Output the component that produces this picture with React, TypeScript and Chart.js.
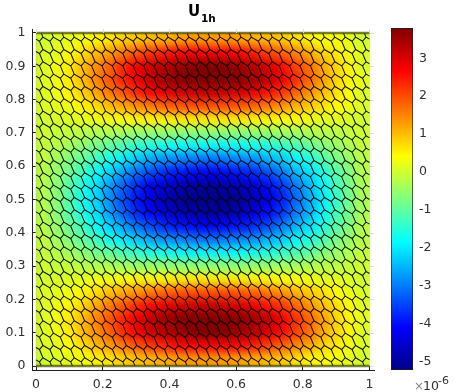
import React, { useEffect, useRef } from "react";
import { Chart, registerables } from "chart.js";

Chart.register(...registerables);

const FONT = "'DejaVu Sans'";
const TEXT = "#303030";
const LINE = "#202020";

const xTickValues = [0, 0.2, 0.4, 0.6, 0.8, 1];
const yTickValues = [0, 0.1, 0.2, 0.3, 0.4, 0.5, 0.6, 0.7, 0.8, 0.9, 1];
const barTickValues = [-5, -4, -3, -2, -1, 0, 1, 2, 3];
const valueMin = -5.22;
const valueMax = 3.8;

const jetStops = [0, 0.125, 0.375, 0.625, 0.875, 1];
const jetColours = [
  [0, 0, 135],
  [0, 0, 255],
  [0, 255, 255],
  [255, 255, 0],
  [255, 0, 0],
  [128, 0, 0],
];

// Field, in units of 1e-6: first row is the top of the plot.
const fieldRows = [
  [0.0,0.1,0.2,0.3,0.5,0.6,0.8,0.9,1.0,1.1,1.2,1.3,1.3,1.3,1.3,1.2,1.1,1.0,0.9,0.7,0.5,0.4,0.3,0.2,0.0],
  [0.1,0.2,0.4,0.7,1.0,1.3,1.6,1.9,2.2,2.4,2.6,2.7,2.7,2.7,2.7,2.6,2.4,2.1,1.8,1.5,1.2,0.8,0.6,0.3,0.1],
  [0.1,0.3,0.6,1.0,1.4,1.8,2.3,2.7,3.1,3.3,3.5,3.7,3.8,3.8,3.7,3.5,3.3,3.0,2.6,2.1,1.7,1.2,0.8,0.5,0.1],
  [0.1,0.3,0.6,1.0,1.5,1.9,2.4,2.8,3.2,3.5,3.7,3.8,3.8,3.8,3.8,3.7,3.5,3.2,2.8,2.3,1.8,1.3,0.8,0.5,0.2],
  [0.1,0.3,0.5,0.8,1.2,1.6,1.9,2.3,2.6,2.8,3.0,3.1,3.2,3.2,3.1,3.0,2.8,2.5,2.2,1.8,1.4,1.0,0.7,0.4,0.1],
  [0.1,0.2,0.3,0.5,0.7,1.0,1.2,1.4,1.6,1.8,1.9,2.0,2.0,2.0,2.0,1.9,1.8,1.6,1.4,1.1,0.9,0.7,0.4,0.3,0.1],
  [0.0,0.1,0.1,0.2,0.3,0.3,0.4,0.5,0.5,0.5,0.6,0.6,0.6,0.6,0.6,0.6,0.5,0.5,0.4,0.4,0.3,0.2,0.2,0.1,0.0],
  [0.0,-0.1,-0.1,-0.2,-0.3,-0.3,-0.4,-0.5,-0.5,-0.5,-0.6,-0.6,-0.6,-0.6,-0.6,-0.6,-0.5,-0.5,-0.4,-0.4,-0.3,-0.2,-0.2,-0.1,0.0],
  [-0.1,-0.2,-0.4,-0.6,-0.8,-1.0,-1.2,-1.4,-1.6,-1.7,-1.8,-1.9,-1.9,-1.9,-1.9,-1.8,-1.7,-1.6,-1.4,-1.2,-1.0,-0.7,-0.5,-0.3,-0.1],
  [-0.1,-0.4,-0.7,-1.0,-1.3,-1.7,-2.0,-2.3,-2.6,-2.8,-2.9,-3.0,-3.1,-3.1,-3.0,-2.9,-2.8,-2.5,-2.3,-1.9,-1.6,-1.2,-0.8,-0.5,-0.2],
  [-0.2,-0.5,-0.9,-1.3,-1.8,-2.2,-2.7,-3.1,-3.4,-3.7,-3.9,-4.0,-4.1,-4.1,-4.0,-3.9,-3.7,-3.4,-3.0,-2.5,-2.1,-1.6,-1.1,-0.7,-0.2],
  [-0.2,-0.6,-1.1,-1.6,-2.1,-2.7,-3.2,-3.7,-4.1,-4.4,-4.7,-4.9,-5.0,-5.0,-4.9,-4.7,-4.4,-4.0,-3.6,-3.0,-2.5,-1.9,-1.3,-0.8,-0.3],
  [-0.2,-0.6,-1.1,-1.7,-2.2,-2.8,-3.4,-3.9,-4.3,-4.7,-5.0,-5.2,-5.2,-5.2,-5.2,-5.0,-4.7,-4.3,-3.8,-3.2,-2.6,-2.0,-1.4,-0.8,-0.3],
  [-0.2,-0.6,-1.1,-1.6,-2.1,-2.7,-3.2,-3.7,-4.1,-4.4,-4.7,-4.9,-5.0,-5.0,-4.9,-4.7,-4.4,-4.0,-3.6,-3.0,-2.5,-1.9,-1.3,-0.8,-0.3],
  [-0.2,-0.5,-0.9,-1.3,-1.8,-2.2,-2.7,-3.1,-3.4,-3.7,-3.9,-4.0,-4.1,-4.1,-4.0,-3.9,-3.7,-3.4,-3.0,-2.5,-2.1,-1.6,-1.1,-0.7,-0.2],
  [-0.1,-0.4,-0.7,-1.0,-1.3,-1.7,-2.0,-2.3,-2.6,-2.8,-2.9,-3.0,-3.1,-3.1,-3.0,-2.9,-2.8,-2.5,-2.3,-1.9,-1.6,-1.2,-0.8,-0.5,-0.2],
  [-0.1,-0.2,-0.4,-0.6,-0.8,-1.0,-1.2,-1.4,-1.6,-1.7,-1.8,-1.9,-1.9,-1.9,-1.9,-1.8,-1.7,-1.6,-1.4,-1.2,-1.0,-0.7,-0.5,-0.3,-0.1],
  [0.0,-0.1,-0.1,-0.2,-0.3,-0.3,-0.4,-0.5,-0.5,-0.5,-0.6,-0.6,-0.6,-0.6,-0.6,-0.6,-0.5,-0.5,-0.4,-0.4,-0.3,-0.2,-0.2,-0.1,0.0],
  [0.0,0.1,0.1,0.2,0.3,0.3,0.4,0.5,0.5,0.5,0.6,0.6,0.6,0.6,0.6,0.6,0.5,0.5,0.4,0.4,0.3,0.2,0.2,0.1,0.0],
  [0.1,0.2,0.3,0.5,0.7,1.0,1.2,1.4,1.6,1.8,1.9,2.0,2.0,2.0,2.0,1.9,1.8,1.6,1.4,1.1,0.9,0.7,0.4,0.3,0.1],
  [0.1,0.3,0.5,0.8,1.2,1.6,1.9,2.3,2.6,2.8,3.0,3.1,3.2,3.2,3.1,3.0,2.8,2.5,2.2,1.8,1.4,1.0,0.7,0.4,0.1],
  [0.1,0.3,0.6,1.0,1.5,1.9,2.4,2.8,3.2,3.5,3.7,3.8,3.8,3.8,3.8,3.7,3.5,3.2,2.8,2.3,1.8,1.3,0.8,0.5,0.2],
  [0.1,0.3,0.6,1.0,1.4,1.8,2.3,2.7,3.1,3.3,3.5,3.7,3.8,3.8,3.7,3.5,3.3,3.0,2.6,2.1,1.7,1.2,0.8,0.5,0.1],
  [0.1,0.2,0.4,0.7,1.0,1.3,1.6,1.9,2.2,2.4,2.6,2.7,2.7,2.7,2.7,2.6,2.4,2.1,1.8,1.5,1.2,0.8,0.6,0.3,0.1],
  [0.0,0.1,0.2,0.3,0.5,0.6,0.8,0.9,1.0,1.1,1.2,1.3,1.3,1.3,1.3,1.2,1.1,1.0,0.9,0.7,0.5,0.4,0.3,0.2,0.0],
];

// Structured triangulation whose dual cells make up the mesh.
const meshCols = 32;
const meshRows = 27;

const jet = (v: number) => {
  const t = Math.min(1, Math.max(0, (v - valueMin) / (valueMax - valueMin)));
  let i = 0;
  while (i < jetStops.length - 2 && t > jetStops[i + 1]) i++;
  const f = (t - jetStops[i]) / (jetStops[i + 1] - jetStops[i]);
  const c = jetColours[i].map((a, k) => Math.round(a + (jetColours[i + 1][k] - a) * f));
  return `rgb(${c[0]},${c[1]},${c[2]})`;
};

const clipSegment = (a: number[], b: number[]) => {
  let t0 = 0;
  let t1 = 1;
  const d = [b[0] - a[0], b[1] - a[1]];
  for (let k = 0; k < 2; k++) {
    for (const [p, q] of [[-d[k], a[k]], [d[k], 1 - a[k]]]) {
      if (p === 0) {
        if (q < 0) return null;
      } else {
        const r = q / p;
        if (p < 0) t0 = Math.max(t0, r);
        else t1 = Math.min(t1, r);
      }
    }
  }
  if (t0 >= t1) return null;
  return [
    [a[0] + d[0] * t0, a[1] + d[1] * t0],
    [a[0] + d[0] * t1, a[1] + d[1] * t1],
  ];
};

const buildMesh = () => {
  const pts: { x: number; y: number }[] = [];
  const hx = 1 / meshCols;
  const hy = 1 / meshRows;
  const edgeA = [(2 * hx) / 3, hy / 3];
  const edgeB = [hx / 3, (2 * hy) / 3];
  const edgeC = [-hx / 3, hy / 3];
  for (let j = -1; j <= meshRows + 1; j++) {
    for (let i = -1; i <= meshCols + 1; i++) {
      const tx = i * hx - hx / 3;
      const ty = j * hy - (2 * hy) / 3;
      const ends = [
        [tx + edgeA[0], ty + edgeA[1]],
        [tx + edgeC[0], ty + edgeC[1]],
        [tx - edgeB[0], ty - edgeB[1]],
      ];
      for (const e of ends) {
        const s = clipSegment([tx, ty], e);
        if (s) {
          pts.push({ x: s[0][0], y: 1 - s[0][1] });
          pts.push({ x: s[1][0], y: 1 - s[1][1] });
          pts.push({ x: NaN, y: NaN });
        }
      }
    }
  }
  return pts;
};

const heatPlugin = {
  id: "heatSmooth",
  afterDatasetDraw(chart: any, args: any) {
    if (args.index !== 0) return;
    const { ctx, scales } = chart;
    const l = scales.x.getPixelForValue(0);
    const r = scales.x.getPixelForValue(1);
    const t = scales.y.getPixelForValue(1);
    const b = scales.y.getPixelForValue(0);
    ctx.save();
    ctx.beginPath();
    ctx.rect(l, t, r - l, b - t);
    ctx.clip();
    ctx.filter = "blur(4px)";
    ctx.drawImage(chart.canvas, 0, 0);
    ctx.restore();
  },
  afterDraw(chart: any) {
    const { ctx, scales, chartArea: a } = chart;
    ctx.save();
    ctx.strokeStyle = "#dcdcdc";
    ctx.lineWidth = 1;
    ctx.beginPath();
    for (const v of yTickValues) {
      const y = Math.round(scales.y.getPixelForValue(v)) + 0.5;
      ctx.moveTo(a.right - 4, y);
      ctx.lineTo(a.right, y);
    }
    for (const v of xTickValues) {
      const x = Math.round(scales.x.getPixelForValue(v)) + 0.5;
      ctx.moveTo(x, a.top);
      ctx.lineTo(x, a.top + 4);
    }
    ctx.stroke();
    ctx.fillStyle = "#000";
    ctx.textBaseline = "alphabetic";
    ctx.textAlign = "left";
    ctx.font = `bold 15px ${FONT}`;
    ctx.fillText("U", 188, 15.5);
    ctx.font = `bold 10.5px ${FONT}`;
    ctx.fillText("1h", 201, 22);
    ctx.restore();
  },
};

const multiplierPlugin = {
  id: "multiplier",
  afterDraw(chart: any) {
    const { ctx } = chart;
    ctx.save();
    ctx.textBaseline = "alphabetic";
    ctx.textAlign = "left";
    ctx.fillStyle = "#888";
    ctx.font = `12px ${FONT}`;
    ctx.fillText("×", 414 - 380, 390);
    ctx.fillStyle = TEXT;
    ctx.font = `12.5px ${FONT}`;
    ctx.fillText("10", 423 - 380, 389.5);
    ctx.font = `11px ${FONT}`;
    ctx.fillText("-6", 438 - 380, 384);
    ctx.restore();
  },
};

const tickLabel = (v: any) => String(+Number(v).toFixed(1));

export default function App() {
  const plotRef = useRef<HTMLCanvasElement>(null);
  const barRef = useRef<HTMLCanvasElement>(null);

  useEffect(() => {
    const n = fieldRows.length;
    const cells: any[] = [];
    const colours: string[] = [];
    fieldRows.forEach((row, r) =>
      row.forEach((v, c) => {
        cells.push({ x: (c + 0.5) / row.length, y: 1 - (r + 0.5) / n });
        colours.push(jet(v));
      })
    );
    const plot = new Chart(plotRef.current!, {
      type: "scatter",
      plugins: [heatPlugin],
      data: {
        datasets: [
          {
            data: cells,
            order: 3,
            pointStyle: "rect",
            backgroundColor: colours,
            borderWidth: 0,
            pointRadius: (c: any) => {
              const s = c.chart.scales.x;
              const side = (s.getPixelForValue(1) - s.getPixelForValue(0)) / n + 0.6;
              return side / Math.SQRT2;
            },
            showLine: false,
          },
          {
            data: buildMesh(),
            order: 2,
            showLine: true,
            spanGaps: false,
            pointRadius: 0,
            borderColor: "rgba(5,5,0,0.95)",
            borderWidth: 1.05,
          },
          {
            data: [{ x: 0, y: 1 }, { x: 1, y: 1 }, { x: NaN, y: NaN }, { x: 0, y: 0 }, { x: 1, y: 0 }],
            order: 1,
            showLine: true,
            spanGaps: false,
            pointRadius: 0,
            borderColor: "rgba(70,75,10,0.72)",
            borderWidth: 2.5,
          },
        ],
      } as any,
      options: {
        responsive: false,
        animation: false,
        events: [],
        layout: { padding: { top: 29, right: 80, left: 0, bottom: 0 } },
        plugins: { legend: { display: false }, tooltip: { enabled: false } },
        scales: {
          x: {
            type: "linear",
            min: -0.012,
            max: 1.0135,
            afterFit: (s: any) => { s.height = 22; },
            afterBuildTicks: (s: any) => { s.ticks = xTickValues.map((value) => ({ value })); },
            grid: { drawOnChartArea: false, tickLength: -4, color: LINE, tickColor: LINE },
            border: { color: LINE, width: 1 },
            ticks: {
              autoSkip: false, maxRotation: 0, padding: 11, color: TEXT,
              font: { family: FONT, size: 12.5 }, callback: tickLabel,
            },
          },
          y: {
            type: "linear",
            min: -0.012,
            max: 1.012,
            afterFit: (s: any) => { s.width = 32; },
            afterBuildTicks: (s: any) => { s.ticks = yTickValues.map((value) => ({ value })); },
            grid: { drawOnChartArea: false, tickLength: -4, color: LINE, tickColor: LINE },
            border: { color: LINE, width: 1 },
            ticks: {
              autoSkip: false, padding: 10.5, color: TEXT,
              font: { family: FONT, size: 12.5 }, callback: tickLabel,
            },
          },
        },
      },
    } as any);

    const bar = new Chart(barRef.current!, {
      type: "bar",
      plugins: [multiplierPlugin],
      data: {
        labels: ["U"],
        datasets: [
          {
            data: [[valueMin, valueMax]],
            barPercentage: 1,
            categoryPercentage: 1,
            borderSkipped: false,
            borderWidth: 1,
            borderColor: "#202020",
            backgroundColor: (c: any) => {
              const a = c.chart.chartArea;
              if (!a) return "#000";
              const g = c.chart.ctx.createLinearGradient(0, a.bottom, 0, a.top);
              jetStops.forEach((s, i) => {
                const k = jetColours[i];
                g.addColorStop(s, `rgb(${k[0]},${k[1]},${k[2]})`);
              });
              return g;
            },
          },
        ],
      } as any,
      options: {
        responsive: false,
        animation: false,
        events: [],
        layout: { padding: { top: 28, left: 11, right: 0, bottom: 22 } },
        plugins: { legend: { display: false }, tooltip: { enabled: false } },
        scales: {
          x: { display: false },
          y: {
            type: "linear",
            position: "right",
            min: valueMin,
            max: valueMax,
            afterFit: (s: any) => { s.width = 41; },
            afterBuildTicks: (s: any) => { s.ticks = barTickValues.map((value) => ({ value })); },
            grid: { drawOnChartArea: false, tickLength: -3, color: LINE, tickColor: LINE },
            border: { display: false },
            ticks: {
              autoSkip: false, padding: 9, color: TEXT, align: "center",
              font: { family: FONT, size: 12.5 }, callback: (v: any) => String(v),
            },
          },
        },
      },
    } as any);

    return () => {
      plot.destroy();
      bar.destroy();
    };
  }, []);

  return (
    <div style={{ position: "absolute", left: 0, top: 0, width: 454, height: 392, background: "#fff" }}>
      <canvas ref={plotRef} width={454} height={392} style={{ position: "absolute", left: 0, top: 0 }} />
      <canvas ref={barRef} width={74} height={392} style={{ position: "absolute", left: 380, top: 0 }} />
    </div>
  );
}
